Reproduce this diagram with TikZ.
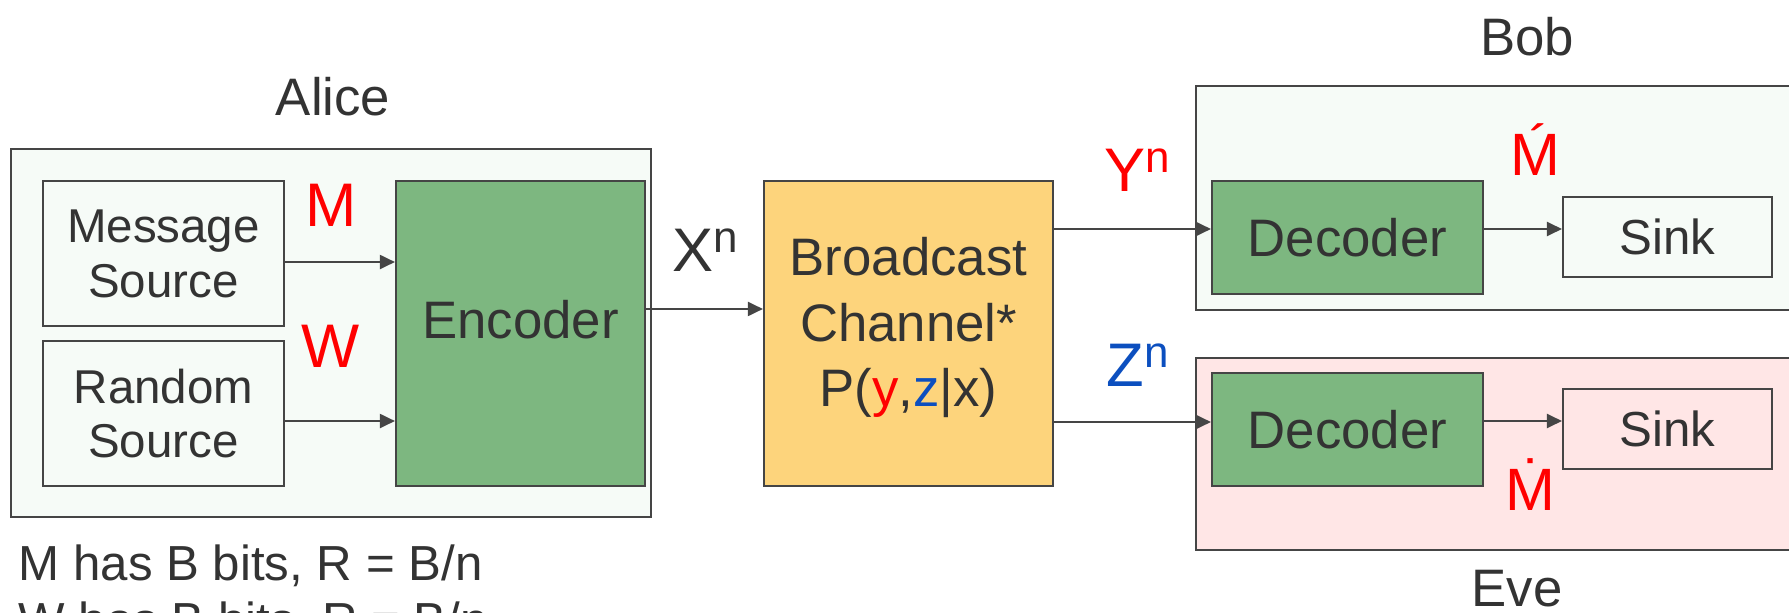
\documentclass[tikz,border=0pt]{standalone}
\usepackage{fontspec}
\setmainfont{Liberation Sans}
\usepackage{xcolor}
\usepackage{tikz}
\usetikzlibrary{arrows.meta,positioning}

\definecolor{txt}{HTML}{333333}
\definecolor{edge}{HTML}{454545}
\definecolor{panelfill}{HTML}{F6FBF7}
\definecolor{evefill}{HTML}{FFE6E6}
\definecolor{codergreen}{HTML}{7DB780}
\definecolor{chanyellow}{HTML}{FDD47C}
\definecolor{symred}{HTML}{FF0000}
\definecolor{symblue}{HTML}{0C4FBF}

\begin{document}
\begin{tikzpicture}[
    x=0.01cm, y=-0.01cm,
    every node/.style={text=txt, inner sep=0pt},
    panel/.style={rectangle, draw=edge, line width=0.02cm, fill=panelfill},
    block/.style={rectangle, draw=edge, line width=0.02cm, align=center, font=\fontsize{15}{18.5}\selectfont},
    srcbox/.style={block, fill=panelfill, font=\fontsize{13.5}{15.6}\selectfont},
    coder/.style={block, fill=codergreen},
    sinkbox/.style={block, font=\fontsize{14}{16}\selectfont},
    party/.style={font=\fontsize{15}{18}\selectfont, anchor=base},
    sym/.style={font=\fontsize{17.5}{20}\selectfont, text=symred, anchor=base},
    note/.style={font=\fontsize{14}{16}\selectfont, anchor=base west},
    link/.style={draw=edge, line width=0.02cm, -{Triangle[length=0.15cm,width=0.14cm]}}
]
    \useasboundingbox (0,0) rectangle (1789,612);

    % panels
    \node[panel, minimum width=6.40cm, minimum height=3.68cm] (alice) at (331,333) {};
    \node[panel, minimum width=6.20cm, minimum height=2.24cm] (bob) at (1506,198) {};
    \node[panel, fill=evefill, minimum width=6.20cm, minimum height=1.92cm] (eve) at (1506,454) {};

    % Alice
    \node[srcbox, minimum width=2.41cm, minimum height=1.45cm] (msg) at (163.5,253.5) {Message\\Source};
    \node[srcbox, minimum width=2.41cm, minimum height=1.45cm] (rnd) at (163.5,413.5) {Random\\Source};
    \node[coder, minimum width=2.49cm, minimum height=3.05cm, text depth=8.2pt] (enc) at (520.5,333.5) {Encoder};

    % channel
    \node[block, fill=chanyellow, minimum width=2.89cm, minimum height=3.05cm, text depth=6.6pt] (bc) at (908.5,333.5)
        {Broadcast\\Channel*\\P({\color{symred}y},{\color{symblue}z}|x)};

    % Bob and Eve
    \node[coder, minimum width=2.71cm, minimum height=1.13cm] (decB) at (1347.5,237.5) {Decoder};
    \node[coder, minimum width=2.71cm, minimum height=1.13cm] (decE) at (1347.5,429.5) {Decoder};
    \node[sinkbox, fill=panelfill, minimum width=2.09cm, minimum height=0.80cm] (sinkB) at (1667.5,237) {Sink};
    \node[sinkbox, fill=evefill, minimum width=2.09cm, minimum height=0.80cm] (sinkE) at (1667.5,429) {Sink};

    % labels
    \node[party] (alicelbl) at (333,115) {Alice};
    \node[party] (boblbl) at (1527,55) {Bob};
    \node[party] (evelbl) at (1517,606) {Eve};
    \node[sym] (mlbl) at (331,226) {M};
    \node[sym] (wlbl) at (331,367) {W};
    \node[sym, text=txt, anchor=base west] (xlbl) at (672,271) {X\raisebox{5.2pt}{\fontsize{12.5}{12.5}\selectfont n}};
    \node[sym, anchor=base west] (ylbl) at (1104,191) {Y\raisebox{5.2pt}{\fontsize{12.5}{12.5}\selectfont n}};
    \node[sym, text=symblue, anchor=base west] (zlbl) at (1106,386) {Z\raisebox{5.2pt}{\fontsize{12.5}{12.5}\selectfont n}};
    \node[sym, font=\fontsize{17}{20}\selectfont] (mbob) at (1535,175) {M^^^^0301};
    \node[sym, font=\fontsize{17}{20}\selectfont] (meve) at (1530,510) {M^^^^0307};

    \node[note] (note1) at (18,580) {M has B bits, R = B/n};
    \node[note] (note2) at (18,637) {W has B bits, R = B/n};

    % connectors
    \coordinate (mtap) at ([yshift=-0.085cm]msg.east);
    \coordinate (wtap) at ([yshift=-0.075cm]rnd.east);
    \draw[link] (mtap) -- (mtap -| enc.west);
    \draw[link] (wtap) -- (wtap -| enc.west);

    \coordinate (xtap) at ([yshift=0.245cm]enc.east);
    \draw[link] (xtap) -- (xtap -| bc.west);

    \coordinate (yin) at ([yshift=0.085cm]decB.west);
    \coordinate (zin) at ([yshift=0.075cm]decE.west);
    \draw[link] (yin -| bc.east) -- (yin);
    \draw[link] (zin -| bc.east) -- (zin);

    \coordinate (bout) at ([yshift=0.085cm]decB.east);
    \coordinate (eout) at ([yshift=0.085cm]decE.east);
    \draw[link] (bout) -- (bout -| sinkB.west);
    \draw[link] (eout) -- (eout -| sinkE.west);

\end{tikzpicture}
\end{document}
